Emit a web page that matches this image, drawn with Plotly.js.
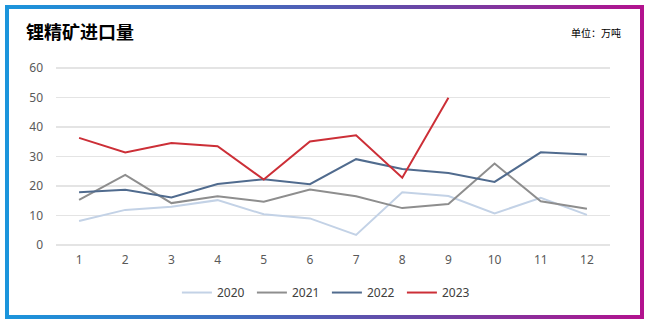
<!DOCTYPE html>
<html>
<head>
<meta charset="utf-8">
<script src="https://cdn.plot.ly/plotly-3.0.1.min.js"></script>
<style>
html,body{margin:0;padding:0;background:#fff;}
#frame{position:absolute;left:5px;top:5px;width:639px;height:314px;background:linear-gradient(90deg,#1b95dc 0%,#3f6fc0 35%,#6a46a6 65%,#b3128e 100%);}
#inner{position:absolute;left:9px;top:9px;width:631px;height:306px;background:#fff;}
#chart{position:absolute;left:0;top:0;width:647px;height:326px;}
</style>
</head>
<body>
<div id="frame"></div>
<div id="inner"></div>
<div id="chart"></div>
<script>
var months = [1,2,3,4,5,6,7,8,9,10,11,12];
var monthLabels = ['1','2','3','4','5','6','7','8','9','10','11','12'];
var y2020 = [8.1, 11.9, 13.0, 15.2, 10.4, 9.0, 3.4, 17.9, 16.6, 10.7, 16.0, 10.2];
var y2021 = [15.3, 23.8, 14.2, 16.5, 14.7, 18.8, 16.5, 12.5, 13.9, 27.6, 14.8, 12.3];
var y2022 = [17.9, 18.7, 16.1, 20.7, 22.3, 20.6, 29.1, 25.8, 24.4, 21.4, 31.4, 30.7];
var y2023 = [36.3, 31.4, 34.6, 33.5, 22.2, 35.1, 37.2, 22.8, 49.9];
var seriesNames = ['2020','2021','2022','2023'];
var seriesColors = ['#c3d2e6','#8e8e8e','#506b8e','#cc2f37'];
var yTicks = [0,10,20,30,40,50,60];

var allY = [y2020, y2021, y2022, y2023];
var traces = allY.map(function(ys, i){
  return {
    x: months.slice(0, ys.length),
    y: ys,
    type: 'scatter',
    mode: 'lines',
    name: seriesNames[i],
    line: {color: seriesColors[i], width: 2}
  };
});

var layout = {
  width: 647, height: 326,
  paper_bgcolor: 'rgba(0,0,0,0)',
  plot_bgcolor: 'rgba(0,0,0,0)',
  margin: {l: 56, r: 37, t: 67, b: 80},
  font: {family: 'Noto Sans, "Noto Sans CJK SC", sans-serif', size: 12, color: '#595959'},
  title: {
    text: '<b>锂精矿进口量</b>',
    font: {family: '"Noto Sans CJK SC", sans-serif', size: 18, color: '#000'},
    xref: 'container', x: 26/647, xanchor: 'left',
    yref: 'container', y: (326-33)/326, yanchor: 'middle'
  },
  xaxis: {
    range: [0.5, 12.5],
    tickmode: 'array', tickvals: months, ticktext: monthLabels,
    showgrid: false, zeroline: false, showline: false,
    ticks: '', ticklabelstandoff: 5,
    tickfont: {size: 12, color: '#595959'}
  },
  yaxis: {
    range: [-0.35, 60.35],
    tickmode: 'array', tickvals: yTicks,
    showgrid: true, gridcolor: '#e4e4e4', gridwidth: 1.5,
    zeroline: false, showline: false,
    ticks: '', ticklabelstandoff: 12,
    tickfont: {size: 12, color: '#595959'}
  },
  showlegend: true,
  legend: {
    orientation: 'h', x: 0.489, xanchor: 'center', y: -0.26, yanchor: 'middle',
    font: {size: 12, color: '#404040'},
    entrywidth: 30, entrywidthmode: 'pixels',
    bgcolor: 'rgba(0,0,0,0)'
  },
  annotations: [{
    text: '单位：万吨',
    xref: 'paper', yref: 'paper',
    x: (623-56)/554, xanchor: 'right',
    y: (245-34)/177, yanchor: 'middle',
    showarrow: false,
    font: {family: '"Noto Sans CJK SC", sans-serif', size: 10, color: '#000'}
  }]
};

Plotly.newPlot('chart', traces, layout, {displayModeBar: false, staticPlot: true});
</script>
</body>
</html>
